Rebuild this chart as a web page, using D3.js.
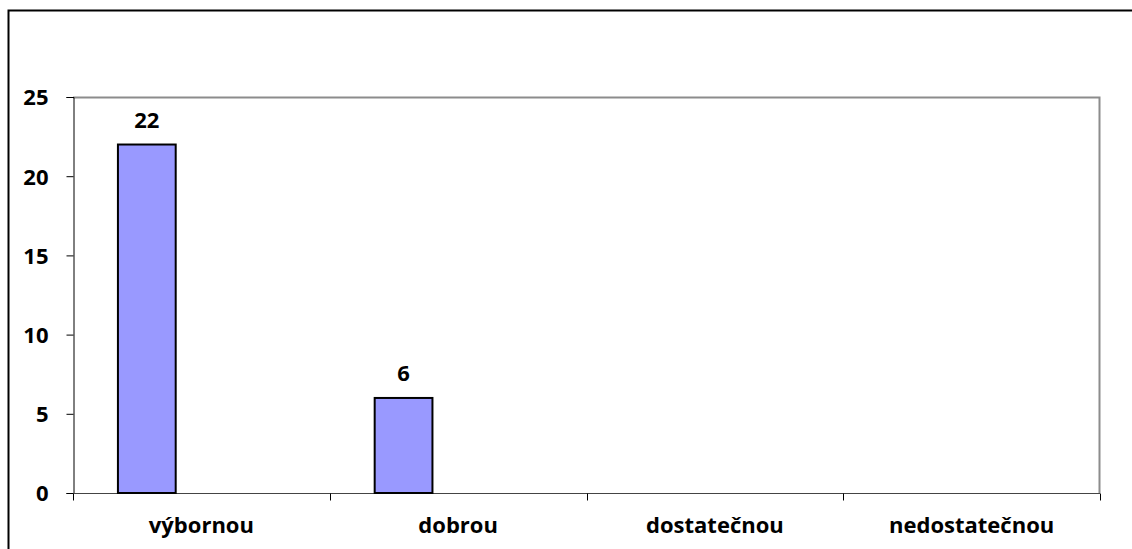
<!DOCTYPE html>
<html>
<head>
<meta charset="utf-8">
<script src="https://cdn.jsdelivr.net/npm/d3@7"></script>
<style>
  html, body { margin: 0; padding: 0; background: #fff; }
  svg { display: block; }
  text { font-family: "Open Sans", Lato, sans-serif; font-weight: bold; fill: #000; }
</style>
</head>
<body>
<svg id="chart" width="1132" height="549"></svg>
<script>
// Grade categories and counts
const categories = ["výbornou", "dobrou", "dostatečnou", "nedostatečnou"];
const counts = [22, 6, null, null];
const yTicks = [0, 5, 10, 15, 20, 25];

const svg = d3.select("#chart");
const W = 1132, H = 549;
const plot = { left: 73, right: 1100, top: 97, bottom: 493 };
const fontSize = "22px";

// Outer frame (left, top, right edges; bottom runs off the canvas)
svg.append("path")
  .attr("d", `M8.5,${H} L8.5,10.5 L${W + 2},10.5`)
  .attr("fill", "none").attr("stroke", "#000").attr("stroke-width", 2);

const x = d3.scaleBand().domain(categories).range([plot.left, plot.right]).padding(0);
const y = d3.scaleLinear().domain([0, 25]).range([plot.bottom, plot.top]);

// Plot area border: top and right in grey
svg.append("path")
  .attr("d", `M${plot.left},${plot.top + 0.5} L${plot.right - 0.5},${plot.top + 0.5} L${plot.right - 0.5},${plot.bottom}`)
  .attr("fill", "none").attr("stroke", "#8c8c8c").attr("stroke-width", 2);

// Y axis
const yAxis = svg.append("g")
  .attr("transform", `translate(${plot.left + 0.5},0)`)
  .call(d3.axisLeft(y).tickValues(yTicks).tickSize(7).tickPadding(18));
yAxis.select(".domain").attr("stroke", "#000");
yAxis.selectAll(".tick line").attr("stroke", "#000");
yAxis.selectAll(".tick text").style("font-size", fontSize).attr("dy", "0.36em");

// X axis with ticks at category boundaries
const xAxis = svg.append("g")
  .attr("transform", `translate(0,${plot.bottom + 0.5})`)
  .call(d3.axisBottom(x).tickSize(0).tickPadding(0));
xAxis.select(".domain").attr("stroke", "#444").attr("d", `M${plot.left},0 H${plot.right}`);
xAxis.selectAll(".tick text").style("font-size", fontSize).attr("y", 39).attr("dy", 0);
const bounds = categories.map(c => x(c)).concat([x.range()[1]]);
xAxis.selectAll("line.boundary").data(bounds).enter().append("line")
  .attr("class", "boundary")
  .attr("x1", d => Math.round(d) + 0.5).attr("x2", d => Math.round(d) + 0.5)
  .attr("y1", 0).attr("y2", 7)
  .attr("stroke", "#000");

// Bars
const barOffset = x.bandwidth() * 0.175;
const barWidth = x.bandwidth() * 0.225;
const data = categories.map((c, i) => ({ cat: c, v: counts[i] })).filter(d => d.v != null);

svg.append("g").selectAll("rect").data(data).enter().append("rect")
  .attr("x", d => x(d.cat) + barOffset)
  .attr("y", d => y(d.v))
  .attr("width", barWidth)
  .attr("height", d => y(0) - y(d.v))
  .attr("fill", "#9999ff")
  .attr("stroke", "#000")
  .attr("stroke-width", 2);

// Value labels
svg.append("g").selectAll("text").data(data).enter().append("text")
  .attr("x", d => x(d.cat) + barOffset + barWidth / 2)
  .attr("y", d => y(d.v) - 17)
  .attr("text-anchor", "middle")
  .style("font-size", fontSize)
  .text(d => d.v);
</script>
</body>
</html>
